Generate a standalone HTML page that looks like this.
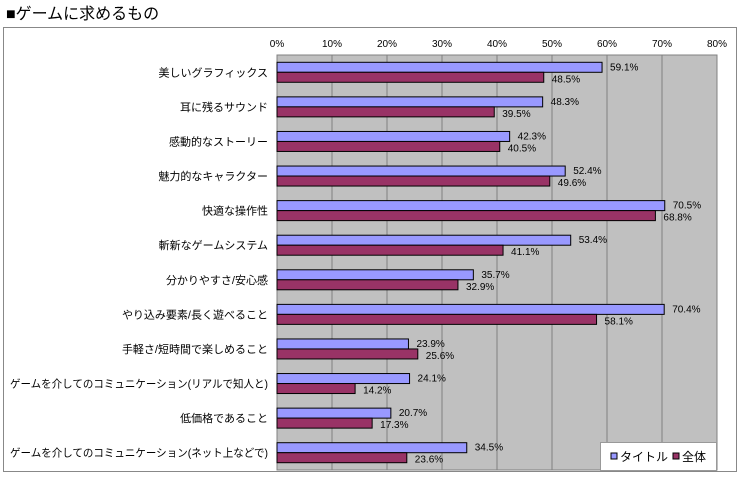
<!DOCTYPE html>
<html><head><meta charset="utf-8"><style>
body{margin:0;width:740px;height:474px;background:#fff;font-family:"Liberation Sans","Noto Sans CJK JP",sans-serif;overflow:hidden}
</style></head><body>
<svg width="740" height="474" xmlns="http://www.w3.org/2000/svg" id="svg" style="font-family:'Liberation Sans','Noto Sans CJK JP',sans-serif">
<text x="6" y="19" font-size="16" fill="#000">■ゲームに求めるもの</text>
<rect x="3.5" y="27.5" width="733" height="444" fill="#fff" stroke="#888"/>
<rect x="277" y="55" width="440" height="415" fill="#c0c0c0" stroke="#808080"/>
<g id="g"></g>
<g>
<rect x="600.5" y="442.5" width="116" height="28" fill="#fff" stroke="#999"/>
<rect x="611" y="453" width="6" height="6" fill="#9999ff" stroke="#000"/>
<text x="620" y="461" font-size="12">タイトル</text>
<rect x="673" y="453" width="6" height="6" fill="#993366" stroke="#000"/>
<text x="682" y="461" font-size="12">全体</text>
</g>
</svg>
<script>
const categories=["美しいグラフィックス","耳に残るサウンド","感動的なストーリー","魅力的なキャラクター","快適な操作性","斬新なゲームシステム","分かりやすさ/安心感","やり込み要素/長く遊べること","手軽さ/短時間で楽しめること","ゲームを介してのコミュニケーション(リアルで知人と)","低価格であること","ゲームを介してのコミュニケーション(ネット上などで)"];
const titleValues=[59.1,48.3,42.3,52.4,70.5,53.4,35.7,70.4,23.9,24.1,20.7,34.5];
const allValues=[48.5,39.5,40.5,49.6,68.8,41.1,32.9,58.1,25.6,14.2,17.3,23.6];
const tickLabels=["0%","10%","20%","30%","40%","50%","60%","70%","80%"];
const tickValues=[0,10,20,30,40,50,60,70,80];
const NS="http://www.w3.org/2000/svg",g=document.getElementById('g');
const X0=277,X1=717,Y0=55,Y1=470,MAX=80;
const x=v=>X0+v/MAX*(X1-X0);
const rowH=(Y1-Y0)/categories.length;
const yc=i=>Y0+rowH*(i+0.5);
function mk(t,a){const e=document.createElementNS(NS,t);for(const k in a)e.setAttribute(k,a[k]);g.appendChild(e);return e;}
tickValues.forEach((v,i)=>{
 if(v>0&&v<MAX){const l=mk('line',{x1:x(v),x2:x(v),y1:Y0,y2:Y1,stroke:'#808080'});
 
 }
 const t=mk('text',{x:x(v),y:47,'font-size':10,'text-anchor':'middle'});t.textContent=tickLabels[i];
 
 
});
categories.forEach((c,i)=>{
 const y=yc(i);
 const t=mk('text',{x:268,y:y+4,'font-size':11,'text-anchor':'end'});t.textContent=c;
 
 
 const w=t.getComputedTextLength();
 if(w>258){t.setAttribute('textLength',258);t.setAttribute('lengthAdjust','spacingAndGlyphs');}
 const b1=mk('rect',{x:X0,y:y-10,width:x(titleValues[i])-X0,height:10,fill:'#9999ff',stroke:'#000','stroke-width':1});
 
 
 const b2=mk('rect',{x:X0,y:y,width:x(allValues[i])-X0,height:10,fill:'#993366',stroke:'#000','stroke-width':1});
 
 
 const l1=mk('text',{x:x(titleValues[i])+8,y:y-2,'font-size':10});l1.textContent=titleValues[i].toFixed(1)+'%';
 
 
 const l2=mk('text',{x:x(allValues[i])+8,y:y+10,'font-size':10});l2.textContent=allValues[i].toFixed(1)+'%';
 
 
});
</script>
</body></html>
